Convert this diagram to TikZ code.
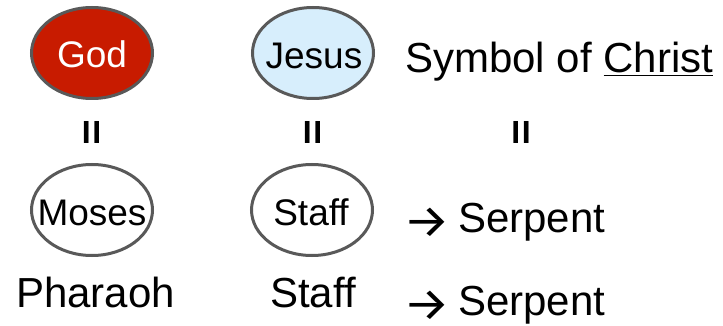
\documentclass[tikz,border=0pt]{standalone}
\usepackage{fontspec}
\setmainfont{Liberation Sans}
\newfontfamily\arrowfont{Fira Sans}
\usetikzlibrary{shapes.geometric}
\definecolor{godred}{HTML}{C81B00}
\definecolor{jesusblue}{HTML}{D7EEFC}
\definecolor{ovalline}{HTML}{595959}
\tikzset{
  oval/.style={ellipse, draw=ovalline, line width=3pt, minimum width=121pt, minimum height=91pt, inner sep=0pt},
  ovaltext/.style={inner sep=0pt, anchor=base, font=\fontsize{37}{40}\selectfont},
  bigtext/.style={inner sep=0pt, anchor=base west, font=\fontsize{42}{46}\selectfont},
  eqsign/.style={inner sep=0pt, anchor=base, font=\bfseries\fontsize{32}{36}\selectfont},
}
\newcommand{\myarrow}{\makebox[55pt][l]{\raisebox{-5.5pt}[22pt][0pt]{\scalebox{1.25}[1.1]{\arrowfont →}}}}
\begin{document}
\begin{tikzpicture}[x=1pt,y=-1pt]
\useasboundingbox[fill=white] (0,0) rectangle (723,326);
% ovals
\node[oval, fill=godred] (god) at (92,53) {};
\node[oval, fill=jesusblue] (jesus) at (313,53) {};
\node[oval, fill=white] (moses) at (92,210) {};
\node[oval, fill=white] (staff) at (312,210) {};
% oval texts
\node[ovaltext, text=white] (godt) at (92,68) {God};
\node[ovaltext] (jesust) at (314,69) {Jesus};
\node[ovaltext] (mosest) at (92,225) {Moses};
\node[ovaltext] (stafft) at (311,225) {Staff};
% symbol text
\node[bigtext] (symbol) at (405,73) {Symbol of \underline{Christ}};
% equal signs
\node[eqsign] (eq1) at (91.5,143) {I\kern1.6ptI};
\node[eqsign] (eq2) at (312.5,143) {I\kern1.6ptI};
\node[eqsign] (eq3) at (521,143) {I\kern1.6ptI};
% serpent rows
\node[bigtext] (serp1) at (403,232) {\myarrow Serpent};
\node[bigtext] (pharaoh) at (16,307) {Pharaoh};
\node[bigtext] (staff2) at (270,307) {Staff};
\node[bigtext] (serp2) at (403,315) {\myarrow Serpent};
\end{tikzpicture}
\end{document}
